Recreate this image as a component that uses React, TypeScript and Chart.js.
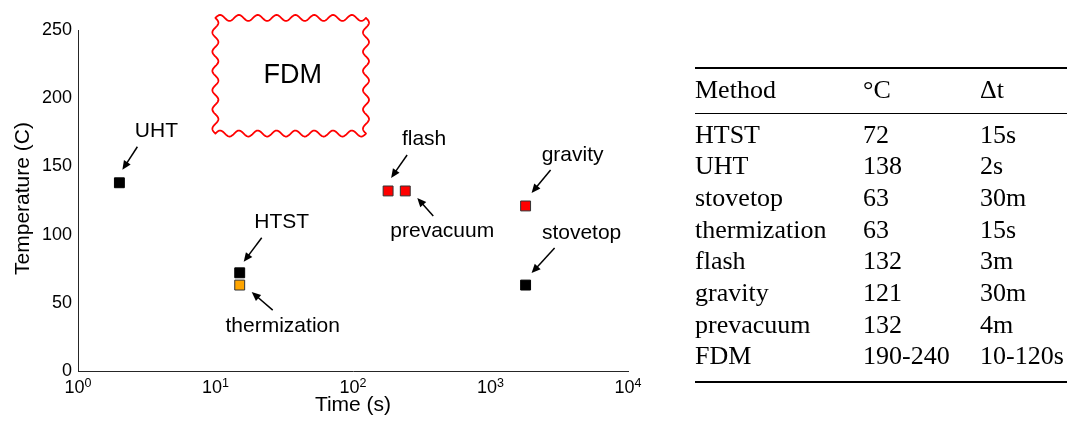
import React, { useEffect, useRef } from 'react';
import { Chart, registerables } from 'chart.js';

Chart.register(...registerables);

// ---- data ----
const methodNames = ['HTST', 'UHT', 'stovetop', 'thermization', 'flash', 'gravity', 'prevacuum', 'FDM'];
const tempLabels = ['72', '138', '63', '63', '132', '121', '132', '190-240'];
const durationLabels = ['15s', '2s', '30m', '15s', '3m', '30m', '4m', '10-120s'];

// plotted points (first seven methods), time in seconds, temperature in C
const pointTimes = [15, 2, 1800, 15, 180, 1800, 240];
const pointTemps = [72, 138, 63, 63, 132, 121, 132];
const pointKinds = ['dairy', 'dairy', 'dairy', 'thermization', 'autoclave', 'autoclave', 'autoclave'];

const fdmTimeRange = [10, 120];
const fdmTempRange = [190, 240];

const yTicks = [0, 50, 100, 150, 200, 250];
const xTickExponents = [0, 1, 2, 3, 4];

const xTitle = 'Time (s)';
const yTitle = 'Temperature (C)';
const tableHeader = ['Method', '°C', 'Δt'];

// ---- styles ----
const SANS = '"Liberation Sans", Arial, sans-serif';
const SERIF = '"Liberation Serif", "Times New Roman", serif';

const kindStyle: Record<string, { fill: string; edge: string }> = {
  dairy: { fill: '#000000', edge: '#000000' },
  thermization: { fill: '#FFA500', edge: '#333333' },
  autoclave: { fill: '#FF0000', edge: '#333333' },
};

// pixel offsets relative to the marker: text anchor (center, baseline), arrow tail, arrow tip
const annotationStyle: Record<string, { text: [number, number]; tail: [number, number]; tip: [number, number] }> = {
  UHT: { text: [37, -46], tail: [18, -36], tip: [3, -13] },
  HTST: { text: [42, -45], tail: [22, -35], tip: [4, -11] },
  thermization: { text: [43, 47], tail: [33, 25], tip: [12, 7] },
  flash: { text: [36, -46], tail: [19, -36], tip: [3, -13] },
  prevacuum: { text: [37, 46], tail: [28, 25], tip: [12, 7] },
  gravity: { text: [47, -45], tail: [25, -36], tip: [6, -13] },
  stovetop: { text: [56, -46], tail: [29, -37], tip: [6, -12] },
};

function drawArrow(ctx: CanvasRenderingContext2D, x0: number, y0: number, x1: number, y1: number) {
  const ang = Math.atan2(y1 - y0, x1 - x0);
  const hl = 9;
  const hw = 4;
  const c = Math.cos(ang);
  const s = Math.sin(ang);
  const bx = x1 - hl * c;
  const by = y1 - hl * s;
  ctx.beginPath();
  ctx.moveTo(x0, y0);
  ctx.lineTo(bx + c, by + s);
  ctx.lineWidth = 1.5;
  ctx.strokeStyle = '#000';
  ctx.stroke();
  ctx.beginPath();
  ctx.moveTo(x1, y1);
  ctx.lineTo(bx + hw * s, by - hw * c);
  ctx.lineTo(bx - hw * s, by + hw * c);
  ctx.closePath();
  ctx.fillStyle = '#000';
  ctx.fill();
}

function drawWavyRect(ctx: CanvasRenderingContext2D, cx: number, cy: number, hw: number, hh: number, period: number, amp: number) {
  const corners: [number, number][] = [
    [cx - hw, cy - hh],
    [cx + hw, cy - hh],
    [cx + hw, cy + hh],
    [cx - hw, cy + hh],
  ];
  ctx.beginPath();
  for (let e = 0; e < 4; e++) {
    const [ax, ay] = corners[e];
    const [bx, by] = corners[(e + 1) % 4];
    const len = Math.hypot(bx - ax, by - ay);
    const n = Math.max(1, Math.round(len / period));
    const dx = (bx - ax) / len;
    const dy = (by - ay) / len;
    const nx = dy;
    const ny = -dx;
    const steps = 200;
    for (let i = 0; i <= steps; i++) {
      const t = i / steps;
      const off = amp * Math.sin(Math.PI * 2 * n * t);
      const px = ax + (bx - ax) * t + nx * off;
      const py = ay + (by - ay) * t + ny * off;
      if (e === 0 && i === 0) ctx.moveTo(px, py);
      else ctx.lineTo(px, py);
    }
  }
  ctx.closePath();
  ctx.lineWidth = 1.8;
  ctx.lineJoin = 'round';
  ctx.strokeStyle = '#FF0000';
  ctx.stroke();
}

const overlayPlugin = {
  id: 'overlay',
  afterDraw(chart: any) {
    const ctx: CanvasRenderingContext2D = chart.ctx;
    const xs = chart.scales.x;
    const ys = chart.scales.y;
    const area = chart.chartArea;
    ctx.save();
    ctx.fillStyle = '#000';

    // y tick labels
    ctx.font = `18px ${SANS}`;
    ctx.textAlign = 'right';
    ctx.textBaseline = 'middle';
    yTicks.forEach((v) => ctx.fillText(String(v), area.left - 6, ys.getPixelForValue(v)));

    // x tick labels 10^n
    xTickExponents.forEach((e) => {
      const px = xs.getPixelForValue(Math.pow(10, e));
      ctx.font = `18px ${SANS}`;
      const baseW = ctx.measureText('10').width;
      ctx.font = `12.5px ${SANS}`;
      const expW = ctx.measureText(String(e)).width;
      const start = px - (baseW + expW) / 2;
      ctx.textAlign = 'left';
      ctx.textBaseline = 'alphabetic';
      ctx.font = `18px ${SANS}`;
      ctx.fillText('10', start, area.bottom + 22);
      ctx.font = `12.5px ${SANS}`;
      ctx.fillText(String(e), start + baseW, area.bottom + 16);
    });

    // axis titles
    ctx.font = `21px ${SANS}`;
    ctx.textAlign = 'center';
    ctx.textBaseline = 'alphabetic';
    ctx.fillText(xTitle, (area.left + area.right) / 2, area.bottom + 40);
    ctx.save();
    ctx.translate(area.left - 54.5, (area.top + area.bottom) / 2 - 2);
    ctx.rotate(-Math.PI / 2);
    ctx.textBaseline = 'middle';
    ctx.fillText(yTitle, 0, 0);
    ctx.restore();

    // FDM box
    const fcx = xs.getPixelForValue(Math.sqrt(fdmTimeRange[0] * fdmTimeRange[1])) + 1;
    const fcy = ys.getPixelForValue((fdmTempRange[0] + fdmTempRange[1]) / 2) - 2;
    drawWavyRect(ctx, fcx, fcy, 75.3, 57.8, 19, 3);
    ctx.fillStyle = '#000';
    ctx.font = `27px ${SANS}`;
    ctx.textAlign = 'center';
    ctx.textBaseline = 'middle';
    ctx.fillText(methodNames[7], fcx + 2, fcy);

    // annotations
    ctx.font = `21px ${SANS}`;
    ctx.textAlign = 'center';
    ctx.textBaseline = 'alphabetic';
    pointTimes.forEach((t, i) => {
      const name = methodNames[i];
      const st = annotationStyle[name];
      if (!st) return;
      const px = xs.getPixelForValue(t);
      const py = ys.getPixelForValue(pointTemps[i]);
      ctx.fillStyle = '#000';
      ctx.fillText(name, px + st.text[0], py + st.text[1]);
      drawArrow(ctx, px + st.tail[0], py + st.tail[1], px + st.tip[0], py + st.tip[1]);
    });

    ctx.restore();
  },
};

function PlotCanvas() {
  const ref = useRef<HTMLCanvasElement | null>(null);
  useEffect(() => {
    if (!ref.current) return;
    const chart = new Chart(ref.current, {
      type: 'scatter',
      data: {
        datasets: [
          {
            data: pointTimes.map((t, i) => ({ x: t, y: pointTemps[i] })),
            pointStyle: 'rect',
            pointRadius: 7,
            pointHoverRadius: 7,
            borderWidth: 1,
            backgroundColor: pointKinds.map((k) => kindStyle[k].fill),
            borderColor: pointKinds.map((k) => kindStyle[k].edge),
            showLine: false,
          },
        ],
      },
      options: {
        animation: false,
        responsive: true,
        maintainAspectRatio: false,
        layout: { padding: { left: 70, top: 22, right: 20, bottom: 45 } },
        plugins: { legend: { display: false }, tooltip: { enabled: false } },
        events: [],
        scales: {
          x: {
            type: 'logarithmic',
            min: 1,
            max: 10000,
            grid: { display: false, drawTicks: false },
            border: { display: true, color: '#262626', width: 1 },
            ticks: { display: false },
          },
          y: {
            type: 'linear',
            min: 0,
            max: 250,
            grid: { display: false, drawTicks: false },
            border: { display: true, color: '#262626', width: 1 },
            ticks: { display: false },
          },
        },
      },
      plugins: [overlayPlugin],
    });
    return () => chart.destroy();
  }, []);
  return <canvas ref={ref} />;
}

function MethodTable() {
  const colW = [168, 117];
  const row = (cells: string[], key: string) => (
    <div key={key} style={{ display: 'flex', height: '31.67px', whiteSpace: 'nowrap' }}>
      <div style={{ width: colW[0], flex: 'none' }}>{cells[0]}</div>
      <div style={{ width: colW[1], flex: 'none' }}>{cells[1]}</div>
      <div style={{ flex: 'none' }}>{cells[2]}</div>
    </div>
  );
  return (
    <div
      style={{
        position: 'fixed',
        left: 695,
        top: 67.3,
        width: 372,
        fontFamily: SERIF,
        fontSize: 26,
        lineHeight: '31.67px',
        color: '#000',
        borderTop: '2px solid #000',
        borderBottom: '2px solid #000',
      }}
    >
      <div style={{ paddingTop: 4.4, paddingBottom: 7.4, borderBottom: '1px solid #000' }}>
        {row(tableHeader, 'h')}
      </div>
      <div style={{ paddingTop: 4.9, paddingBottom: 9 }}>
        {methodNames.map((m, i) => row([m, tempLabels[i], durationLabels[i]], 'r' + i))}
      </div>
    </div>
  );
}

export default function App() {
  useEffect(() => {
    document.documentElement.style.overflow = 'hidden';
    document.body.style.overflow = 'hidden';
  }, []);
  return (
    <div style={{ position: 'relative', width: 1053, height: 408 }}>
      <div style={{ position: 'absolute', left: 0, top: 0, width: 640, height: 408 }}>
        <PlotCanvas />
      </div>
      <MethodTable />
    </div>
  );
}
